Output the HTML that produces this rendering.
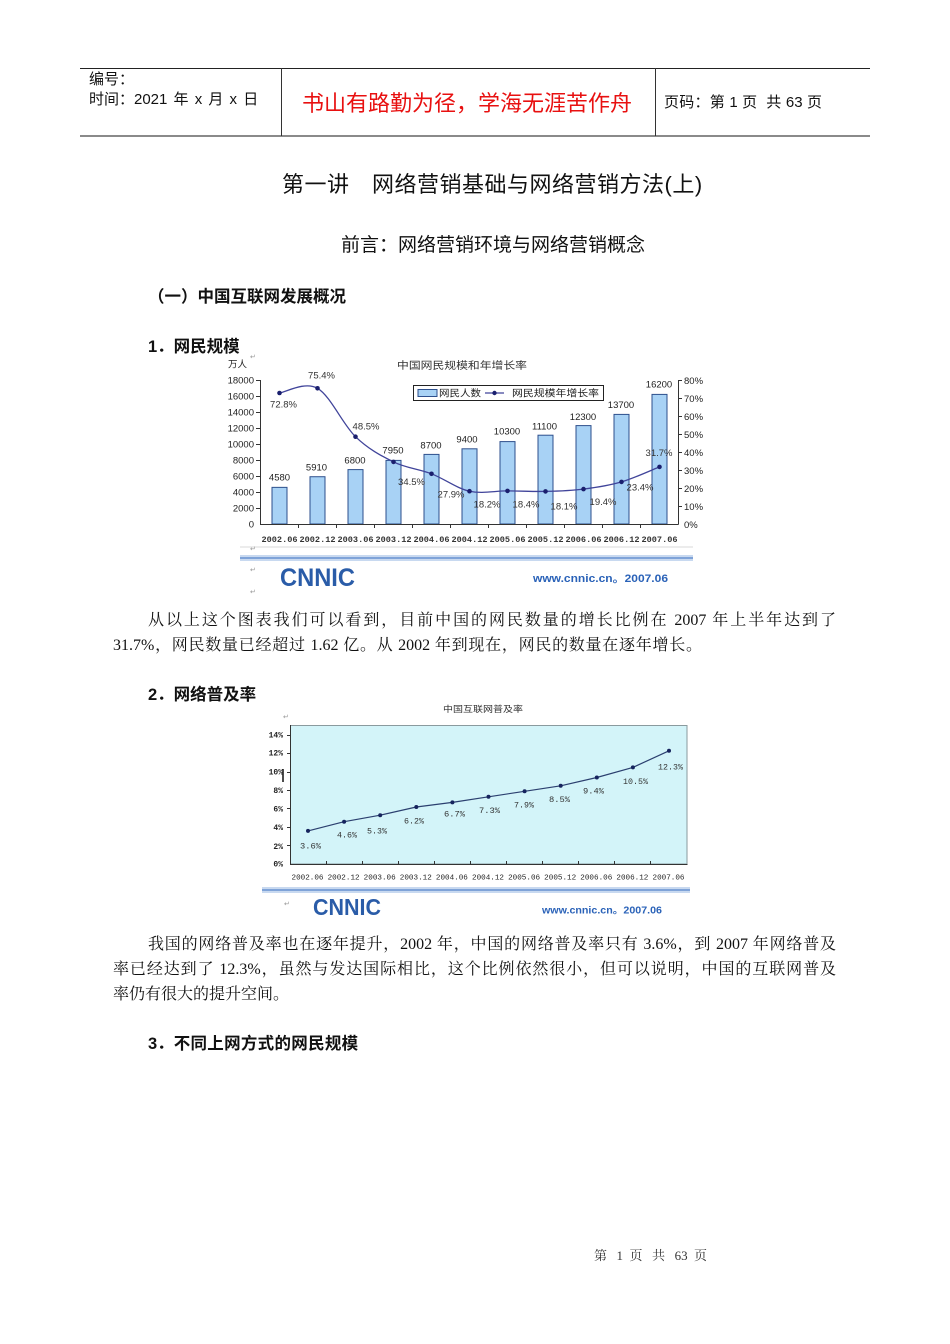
<!DOCTYPE html>
<html lang="zh">
<head>
<meta charset="utf-8">
<style>
html,body{margin:0;padding:0;background:#fff;}
body{width:950px;height:1344px;position:relative;overflow:hidden;}
.a{position:absolute;white-space:nowrap;}
.sans{font-family:"Liberation Sans","Noto Sans CJK SC",sans-serif;}
.serif{font-family:"Liberation Serif","Noto Serif CJK SC",serif;}
.j{text-align:justify;text-align-last:justify;}
.ln{position:absolute;}
</style>
</head>
<body>

<!-- header table -->
<div class="ln" style="left:80px;top:68px;width:790px;height:1px;background:#222;"></div>
<div class="ln" style="left:80px;top:135px;width:790px;height:2px;background:#8a8a8a;"></div>
<div class="ln" style="left:281px;top:68px;width:1px;height:68px;background:#333;"></div>
<div class="ln" style="left:655px;top:68px;width:1px;height:68px;background:#333;"></div>

<div class="a sans" style="left:89px;top:71px;font-size:15px;line-height:18px;color:#111;">编号：</div>
<div class="a sans" style="left:89px;top:91px;font-size:15px;line-height:18px;color:#111;word-spacing:2px;">时间：2021 年 x 月 x 日</div>
<div class="a sans" style="left:302px;top:91px;font-size:22px;line-height:26px;color:#e81010;">书山有路勤为径，学海无涯苦作舟</div>
<div class="a sans j" style="left:664px;top:94px;width:158px;font-size:15px;line-height:18px;color:#111;">页码：第 1 页 &nbsp;共 63 页</div>

<!-- titles -->
<div class="a sans" style="left:282px;top:171px;font-size:22px;line-height:27px;color:#111;letter-spacing:0.5px;">第一讲　网络营销基础与网络营销方法(上)</div>
<div class="a sans" style="left:341px;top:234px;font-size:19px;line-height:23px;color:#111;">前言：网络营销环境与网络营销概念</div>

<div class="a sans" style="left:148px;top:287px;font-size:16.5px;line-height:20px;font-weight:bold;color:#111;">（一）中国互联网发展概况</div>
<div class="a sans" style="left:148px;top:337px;font-size:16.5px;line-height:20px;font-weight:bold;color:#111;">1．网民规模</div>

<!-- paragraph 1 -->
<div class="a serif j" style="left:148px;top:611px;width:688px;font-size:16px;line-height:20px;color:#111;">从以上这个图表我们可以看到，目前中国的网民数量的增长比例在 2007 年上半年达到了</div>
<div class="a serif j" style="left:113px;top:636px;width:589px;font-size:16px;line-height:20px;color:#111;">31.7%，网民数量已经超过 1.62 亿。从 2002 年到现在，网民的数量在逐年增长。</div>

<div class="a sans" style="left:148px;top:685px;font-size:16.5px;line-height:20px;font-weight:bold;color:#111;">2．网络普及率</div>

<!-- paragraph 2 -->
<div class="a serif j" style="left:148px;top:935px;width:688px;font-size:16px;line-height:20px;color:#111;">我国的网络普及率也在逐年提升，2002 年，中国的网络普及率只有 3.6%，到 2007 年网络普及</div>
<div class="a serif j" style="left:113px;top:960px;width:723px;font-size:16px;line-height:20px;color:#111;">率已经达到了 12.3%，虽然与发达国际相比，这个比例依然很小，但可以说明，中国的互联网普及</div>
<div class="a serif" style="left:113px;top:985px;font-size:16px;line-height:20px;color:#111;">率仍有很大的提升空间。</div>

<div class="a sans" style="left:148px;top:1034px;font-size:16.5px;line-height:20px;font-weight:bold;color:#111;">3．<span style="letter-spacing:0.3px;">不同上网方式的网民规模</span></div>

<!-- footer -->
<div class="a serif j" style="left:594px;top:1248px;width:113px;font-size:13px;line-height:16px;color:#333;">第 1 页 共 63 页</div>

<!-- charts -->
<svg class="a" style="left:0;top:0;" width="950" height="1344" viewBox="0 0 950 1344" xmlns="http://www.w3.org/2000/svg">
  <!-- ============ CHART 1 ============ -->
  <g font-family="Liberation Sans, Noto Sans CJK SC, sans-serif">
    <text x="228" y="367.5" font-size="9.5" fill="#222">万人</text>
    <text x="397" y="368.8" font-size="10" fill="#333" textLength="130" lengthAdjust="spacingAndGlyphs">中国网民规模和年增长率</text>

    <!-- bars -->
    <g fill="#a8d2f5" stroke="#2d4f8c" stroke-width="1">
      <rect x="272" y="487.36" width="15" height="36.64"/>
      <rect x="310" y="476.72" width="15" height="47.28"/>
      <rect x="348" y="469.6" width="15" height="54.4"/>
      <rect x="386" y="460.4" width="15" height="63.6"/>
      <rect x="424" y="454.4" width="15" height="69.6"/>
      <rect x="462" y="448.8" width="15" height="75.2"/>
      <rect x="500" y="441.6" width="15" height="82.4"/>
      <rect x="538" y="435.2" width="15" height="88.8"/>
      <rect x="576" y="425.6" width="15" height="98.4"/>
      <rect x="614" y="414.4" width="15" height="109.6"/>
      <rect x="652" y="394.4" width="15" height="129.6"/>
    </g>

    <!-- axes -->
    <g stroke="#333" stroke-width="1">
      <line x1="260.5" y1="380" x2="260.5" y2="524.5"/>
      <line x1="260" y1="524.5" x2="678.5" y2="524.5"/>
      <line x1="678.5" y1="380" x2="678.5" y2="524.5"/>
      <line x1="256" y1="380.5" x2="260" y2="380.5"/>
      <line x1="256" y1="396.5" x2="260" y2="396.5"/>
      <line x1="256" y1="412.5" x2="260" y2="412.5"/>
      <line x1="256" y1="428.5" x2="260" y2="428.5"/>
      <line x1="256" y1="444.5" x2="260" y2="444.5"/>
      <line x1="256" y1="460.5" x2="260" y2="460.5"/>
      <line x1="256" y1="476.5" x2="260" y2="476.5"/>
      <line x1="256" y1="492.5" x2="260" y2="492.5"/>
      <line x1="256" y1="508.5" x2="260" y2="508.5"/>
      <line x1="678" y1="380.5" x2="682" y2="380.5"/>
      <line x1="678" y1="398.5" x2="682" y2="398.5"/>
      <line x1="678" y1="416.5" x2="682" y2="416.5"/>
      <line x1="678" y1="434.5" x2="682" y2="434.5"/>
      <line x1="678" y1="452.5" x2="682" y2="452.5"/>
      <line x1="678" y1="470.5" x2="682" y2="470.5"/>
      <line x1="678" y1="488.5" x2="682" y2="488.5"/>
      <line x1="678" y1="506.5" x2="682" y2="506.5"/>
      <line x1="298.5" y1="524" x2="298.5" y2="528"/>
      <line x1="336.5" y1="524" x2="336.5" y2="528"/>
      <line x1="374.5" y1="524" x2="374.5" y2="528"/>
      <line x1="412.5" y1="524" x2="412.5" y2="528"/>
      <line x1="450.5" y1="524" x2="450.5" y2="528"/>
      <line x1="488.5" y1="524" x2="488.5" y2="528"/>
      <line x1="526.5" y1="524" x2="526.5" y2="528"/>
      <line x1="564.5" y1="524" x2="564.5" y2="528"/>
      <line x1="602.5" y1="524" x2="602.5" y2="528"/>
      <line x1="640.5" y1="524" x2="640.5" y2="528"/>
    </g>

    <g font-size="9.5" fill="#222" text-anchor="end">
      <text x="254" y="383.5">18000</text>
      <text x="254" y="399.5">16000</text>
      <text x="254" y="415.5">14000</text>
      <text x="254" y="431.5">12000</text>
      <text x="254" y="447.5">10000</text>
      <text x="254" y="463.5">8000</text>
      <text x="254" y="479.5">6000</text>
      <text x="254" y="495.5">4000</text>
      <text x="254" y="511.5">2000</text>
      <text x="254" y="527.5">0</text>
    </g>
    <g font-size="9.5" fill="#222">
      <text x="684" y="384">80%</text>
      <text x="684" y="402">70%</text>
      <text x="684" y="420">60%</text>
      <text x="684" y="438">50%</text>
      <text x="684" y="456">40%</text>
      <text x="684" y="474">30%</text>
      <text x="684" y="492">20%</text>
      <text x="684" y="510">10%</text>
      <text x="684" y="528">0%</text>
    </g>

    <g font-family="Liberation Mono, monospace" font-weight="bold" font-size="8" fill="#333" text-anchor="middle">
      <text x="279.5" y="542" textLength="36" lengthAdjust="spacingAndGlyphs">2002.06</text>
      <text x="317.5" y="542" textLength="36" lengthAdjust="spacingAndGlyphs">2002.12</text>
      <text x="355.5" y="542" textLength="36" lengthAdjust="spacingAndGlyphs">2003.06</text>
      <text x="393.5" y="542" textLength="36" lengthAdjust="spacingAndGlyphs">2003.12</text>
      <text x="431.5" y="542" textLength="36" lengthAdjust="spacingAndGlyphs">2004.06</text>
      <text x="469.5" y="542" textLength="36" lengthAdjust="spacingAndGlyphs">2004.12</text>
      <text x="507.5" y="542" textLength="36" lengthAdjust="spacingAndGlyphs">2005.06</text>
      <text x="545.5" y="542" textLength="36" lengthAdjust="spacingAndGlyphs">2005.12</text>
      <text x="583.5" y="542" textLength="36" lengthAdjust="spacingAndGlyphs">2006.06</text>
      <text x="621.5" y="542" textLength="36" lengthAdjust="spacingAndGlyphs">2006.12</text>
      <text x="659.5" y="542" textLength="36" lengthAdjust="spacingAndGlyphs">2007.06</text>
    </g>

    <path d="M279.5,393 C285.8,392.2 304.8,381.0 317.5,388.3 C330.2,395.6 342.8,424.4 355.5,436.7 C368.2,449.0 380.8,455.7 393.5,461.9 C406.2,468.1 418.8,468.9 431.5,473.8 C444.2,478.7 456.8,488.4 469.5,491.2 C482.2,494.0 494.8,490.9 507.5,490.9 C520.2,490.9 532.8,491.7 545.5,491.4 C558.2,491.1 570.8,490.7 583.5,489.1 C596.2,487.5 608.8,485.6 621.5,481.9 C634.2,478.2 653.2,469.4 659.5,466.9" fill="none" stroke="#40449a" stroke-width="1.3"/>
    <g fill="#1a1f6e">
      <circle cx="279.5" cy="393" r="2.3"/>
      <circle cx="317.5" cy="388.3" r="2.3"/>
      <circle cx="355.5" cy="436.7" r="2.3"/>
      <circle cx="393.5" cy="461.9" r="2.3"/>
      <circle cx="431.5" cy="473.8" r="2.3"/>
      <circle cx="469.5" cy="491.2" r="2.3"/>
      <circle cx="507.5" cy="490.9" r="2.3"/>
      <circle cx="545.5" cy="491.4" r="2.3"/>
      <circle cx="583.5" cy="489.1" r="2.3"/>
      <circle cx="621.5" cy="481.9" r="2.3"/>
      <circle cx="659.5" cy="466.9" r="2.3"/>
    </g>

    <g font-size="9.5" fill="#222" text-anchor="middle">
      <text x="279.5" y="480.5">4580</text>
      <text x="316.5" y="470.5">5910</text>
      <text x="355" y="463.5">6800</text>
      <text x="393" y="453.5">7950</text>
      <text x="431" y="448.5">8700</text>
      <text x="467" y="442.5">9400</text>
      <text x="507" y="434.5">10300</text>
      <text x="544.5" y="429.5">11100</text>
      <text x="583" y="420">12300</text>
      <text x="621" y="408">13700</text>
      <text x="659" y="387.5">16200</text>
    </g>
    <g font-size="9.5" fill="#333" text-anchor="middle">
      <text x="283.5" y="407.5">72.8%</text>
      <text x="321.5" y="378.5">75.4%</text>
      <text x="366" y="429.5">48.5%</text>
      <text x="411.5" y="485">34.5%</text>
      <text x="451" y="497.5">27.9%</text>
      <text x="487" y="507.5">18.2%</text>
      <text x="526" y="507.5">18.4%</text>
      <text x="564" y="509.5">18.1%</text>
      <text x="603" y="505">19.4%</text>
      <text x="640" y="490.5">23.4%</text>
      <text x="659" y="456">31.7%</text>
    </g>

    <rect x="413.5" y="385.5" width="190" height="15" fill="#fff" stroke="#222" stroke-width="1"/>
    <rect x="418" y="389.5" width="19" height="7" fill="#a8d2f5" stroke="#2d4f8c" stroke-width="1"/>
    <text x="439" y="396.5" font-size="9.5" fill="#222" textLength="42" lengthAdjust="spacingAndGlyphs">网民人数</text>
    <line x1="485" y1="393" x2="504" y2="393" stroke="#40449a" stroke-width="1.3"/>
    <circle cx="494.5" cy="393" r="2.2" fill="#1a1f6e"/>
    <text x="512" y="396.5" font-size="9.5" fill="#222" textLength="87" lengthAdjust="spacingAndGlyphs">网民规模年增长率</text>

    <rect x="240" y="546" width="453" height="2" fill="#ececec"/>
    <rect x="240" y="555" width="453" height="6" fill="#c8d9f0"/>
    <rect x="240" y="557" width="453" height="2" fill="#7fa3d8"/>
    <text x="280" y="586" font-size="25" font-weight="bold" fill="#2a5ca8" textLength="75" lengthAdjust="spacingAndGlyphs">CNNIC</text>
    <text x="533" y="582" font-size="11" font-weight="bold" fill="#2a62b8" textLength="135" lengthAdjust="spacingAndGlyphs">www.cnnic.cn。2007.06</text>
    <g font-family="DejaVu Sans, sans-serif" font-size="7" fill="#999">
      <text x="250" y="359">↵</text>
      <text x="250" y="551">↵</text>
      <text x="250" y="572">↵</text>
      <text x="250" y="594">↵</text>
    </g>
  </g>

  <!-- ============ CHART 2 ============ -->
  <g font-family="Liberation Sans, Noto Sans CJK SC, sans-serif">
    <text x="443" y="712" font-size="8.5" fill="#333" textLength="80" lengthAdjust="spacingAndGlyphs">中国互联网普及率</text>
    <rect x="290.5" y="725.5" width="396.5" height="138.5" fill="#d3f4f9" stroke="#8a9a9e" stroke-width="1"/>
    <line x1="290.5" y1="725" x2="290.5" y2="864.5" stroke="#333" stroke-width="1"/>
    <line x1="290" y1="864.5" x2="687.5" y2="864.5" stroke="#333" stroke-width="1"/>
    <g stroke="#333" stroke-width="1">
      <line x1="287" y1="735.5" x2="290" y2="735.5"/>
      <line x1="287" y1="753.5" x2="290" y2="753.5"/>
      <line x1="287" y1="772.5" x2="290" y2="772.5"/>
      <line x1="287" y1="790.5" x2="290" y2="790.5"/>
      <line x1="287" y1="808.5" x2="290" y2="808.5"/>
      <line x1="287" y1="827.5" x2="290" y2="827.5"/>
      <line x1="287" y1="845.5" x2="290" y2="845.5"/>
      <line x1="326.5" y1="861" x2="326.5" y2="864"/>
      <line x1="362.5" y1="861" x2="362.5" y2="864"/>
      <line x1="398.5" y1="861" x2="398.5" y2="864"/>
      <line x1="434.5" y1="861" x2="434.5" y2="864"/>
      <line x1="470.5" y1="861" x2="470.5" y2="864"/>
      <line x1="506.5" y1="861" x2="506.5" y2="864"/>
      <line x1="542.5" y1="861" x2="542.5" y2="864"/>
      <line x1="578.5" y1="861" x2="578.5" y2="864"/>
      <line x1="614.5" y1="861" x2="614.5" y2="864"/>
      <line x1="650.5" y1="861" x2="650.5" y2="864"/>
    </g>
    <line x1="283" y1="769" x2="283" y2="782" stroke="#111" stroke-width="1.5"/>

    <g font-family="Liberation Mono, monospace" font-weight="bold" font-size="8" fill="#222" text-anchor="end">
      <text x="283" y="737.3">14%</text>
      <text x="283" y="755.7">12%</text>
      <text x="283" y="774.7">10%</text>
      <text x="283" y="793">8%</text>
      <text x="283" y="811.3">6%</text>
      <text x="283" y="830">4%</text>
      <text x="283" y="849">2%</text>
      <text x="283" y="866.3">0%</text>
    </g>

    <g font-family="Liberation Mono, monospace" font-size="7.5" fill="#222" text-anchor="middle">
      <text x="307.5" y="879.7" textLength="32" lengthAdjust="spacingAndGlyphs">2002.06</text>
      <text x="343.6" y="879.7" textLength="32" lengthAdjust="spacingAndGlyphs">2002.12</text>
      <text x="379.7" y="879.7" textLength="32" lengthAdjust="spacingAndGlyphs">2003.06</text>
      <text x="415.8" y="879.7" textLength="32" lengthAdjust="spacingAndGlyphs">2003.12</text>
      <text x="451.9" y="879.7" textLength="32" lengthAdjust="spacingAndGlyphs">2004.06</text>
      <text x="488" y="879.7" textLength="32" lengthAdjust="spacingAndGlyphs">2004.12</text>
      <text x="524.1" y="879.7" textLength="32" lengthAdjust="spacingAndGlyphs">2005.06</text>
      <text x="560.2" y="879.7" textLength="32" lengthAdjust="spacingAndGlyphs">2005.12</text>
      <text x="596.3" y="879.7" textLength="32" lengthAdjust="spacingAndGlyphs">2006.06</text>
      <text x="632.4" y="879.7" textLength="32" lengthAdjust="spacingAndGlyphs">2006.12</text>
      <text x="668.5" y="879.7" textLength="32" lengthAdjust="spacingAndGlyphs">2007.06</text>
    </g>

    <polyline points="308,830.9 344.1,821.7 380.2,815.2 416.3,807 452.4,802.4 488.5,796.8 524.6,791.3 560.7,785.8 596.8,777.5 632.9,767.4 669,750.8" fill="none" stroke="#2b3f6f" stroke-width="1.2" stroke-linejoin="round"/>
    <g fill="#16245e">
      <circle cx="308" cy="830.9" r="2"/>
      <circle cx="344.1" cy="821.7" r="2"/>
      <circle cx="380.2" cy="815.2" r="2"/>
      <circle cx="416.3" cy="807" r="2"/>
      <circle cx="452.4" cy="802.4" r="2"/>
      <circle cx="488.5" cy="796.8" r="2"/>
      <circle cx="524.6" cy="791.3" r="2"/>
      <circle cx="560.7" cy="785.8" r="2"/>
      <circle cx="596.8" cy="777.5" r="2"/>
      <circle cx="632.9" cy="767.4" r="2"/>
      <circle cx="669" cy="750.8" r="2"/>
    </g>

    <g font-family="Liberation Mono, monospace" font-size="8.5" fill="#333">
      <text x="300" y="848.7" textLength="21" lengthAdjust="spacingAndGlyphs">3.6%</text>
      <text x="337" y="837.7" textLength="20" lengthAdjust="spacingAndGlyphs">4.6%</text>
      <text x="367" y="833.3" textLength="20" lengthAdjust="spacingAndGlyphs">5.3%</text>
      <text x="404" y="823.7" textLength="20" lengthAdjust="spacingAndGlyphs">6.2%</text>
      <text x="444" y="816.7" textLength="21" lengthAdjust="spacingAndGlyphs">6.7%</text>
      <text x="479" y="813" textLength="21" lengthAdjust="spacingAndGlyphs">7.3%</text>
      <text x="514" y="807.3" textLength="20" lengthAdjust="spacingAndGlyphs">7.9%</text>
      <text x="549" y="802" textLength="21" lengthAdjust="spacingAndGlyphs">8.5%</text>
      <text x="583" y="793.7" textLength="21" lengthAdjust="spacingAndGlyphs">9.4%</text>
      <text x="623" y="784" textLength="25" lengthAdjust="spacingAndGlyphs">10.5%</text>
      <text x="658" y="769.7" textLength="25" lengthAdjust="spacingAndGlyphs">12.3%</text>
    </g>

    <rect x="262" y="887" width="428" height="6" fill="#c8d9f0"/>
    <rect x="262" y="889" width="428" height="2" fill="#7fa3d8"/>
    <text x="313" y="915" font-size="23" font-weight="bold" fill="#2a5ca8" textLength="68" lengthAdjust="spacingAndGlyphs">CNNIC</text>
    <text x="542" y="913.5" font-size="10" font-weight="bold" fill="#2a62b8" textLength="120" lengthAdjust="spacingAndGlyphs">www.cnnic.cn。2007.06</text>
    <g font-family="DejaVu Sans, sans-serif" font-size="7" fill="#999">
      <text x="283" y="719">↵</text>
      <text x="284" y="906">↵</text>
    </g>
  </g>
</svg>

</body>
</html>
